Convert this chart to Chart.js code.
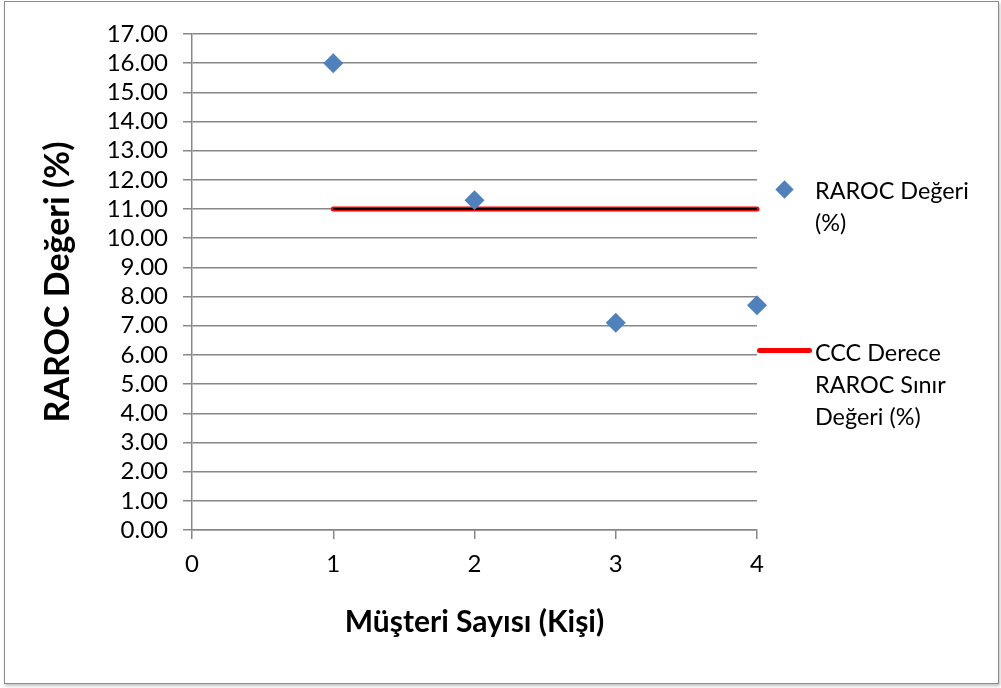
<!DOCTYPE html>
<html>
<head>
<meta charset="utf-8">
<script src="https://cdn.jsdelivr.net/npm/chart.js@4/dist/chart.umd.min.js"></script>
<style>
  html, body { margin: 0; padding: 0; background: #fff; }
  #wrap { position: relative; width: 1001px; height: 688px; overflow: hidden; }
  #frame { position: absolute; left: 4px; top: 1px; width: 993px; height: 681px;
           border: 1.5px solid #8c8c8c; box-shadow: 1px 2px 3px rgba(0,0,0,0.25); }
  canvas { position: absolute; left: 0; top: 0; }
  .leg { position: absolute; left: 815px; font-family: Lato, sans-serif; font-size: 23.4px;
         line-height: 32px; color: #000; white-space: nowrap; }
  .diamond { position: absolute; left: 778px; top: 183px; width: 13px; height: 13px;
             background: #4F81BD; transform: rotate(45deg); }
  .redline { position: absolute; left: 757px; top: 348px; width: 55px; height: 5px;
             background: #FF0000; border-radius: 3px; }
</style>
</head>
<body>
<div id="wrap">
  <div id="frame"></div>
  <canvas id="c" width="1001" height="688"></canvas>
  <div class="diamond"></div>
  <div class="leg" id="leg1" style="top:174px"></div>
  <div class="redline"></div>
  <div class="leg" id="leg2" style="top:336px"></div>
</div>
<script>
// Customer counts and their RAROC values (%)
const customerCounts = [1, 2, 3, 4];
const rarocValues = [16.0, 11.3, 7.1, 7.7];
// CCC grade RAROC threshold (%) across the customers
const thresholdValues = [11.0, 11.0, 11.0, 11.0];

const rarocLabel = ['RAROC Değeri', '(%)'];
const thresholdLabel = ['CCC Derece', 'RAROC Sınır', 'Değeri (%)'];
const xTitle = 'Müşteri Sayısı (Kişi)';
const yTitle = 'RAROC Değeri (%)';

const xMin = 0, xMax = 4, yMin = 0, yMax = 17, yStep = 1;

document.getElementById('leg1').innerHTML = rarocLabel.join('<br>');
document.getElementById('leg2').innerHTML = thresholdLabel.join('<br>');

const toPoints = (xs, ys) => xs.map((x, i) => ({ x: x, y: ys[i] }));

const grey = '#878787';
const tickFont = { family: 'Lato', size: 24 };

new Chart(document.getElementById('c'), {
  type: 'scatter',
  data: {
    datasets: [
      {
        label: rarocLabel.join(' '),
        data: toPoints(customerCounts, rarocValues),
        pointStyle: 'rectRot',
        pointRadius: 10,
        pointHoverRadius: 10,
        backgroundColor: '#4F81BD',
        borderColor: '#4F81BD',
        borderWidth: 0,
        clip: false,
        order: 0
      },
      {
        label: thresholdLabel.join(' '),
        data: toPoints(customerCounts, thresholdValues),
        showLine: true,
        borderColor: '#FF0000',
        borderWidth: 5,
        borderCapStyle: 'round',
        pointRadius: 0,
        clip: false,
        order: 2
      },
      {
        label: 'core',
        data: toPoints(customerCounts, thresholdValues),
        showLine: true,
        borderColor: '#000000',
        borderWidth: 2,
        pointRadius: 0,
        clip: false,
        order: 1
      }
    ]
  },
  options: {
    responsive: false,
    animation: false,
    events: [],
    layout: { padding: { left: 0, top: 34, right: 244, bottom: 0 } },
    plugins: { legend: { display: false }, tooltip: { enabled: false } },
    scales: {
      x: {
        type: 'linear',
        min: xMin, max: xMax,
        afterFit: s => { s.height = 158; },
        ticks: { stepSize: 1, autoSkip: false, color: '#000', font: tickFont, padding: 11,
                 callback: v => String(v) },
        grid: { drawOnChartArea: false, drawTicks: true, tickLength: 9, color: grey, lineWidth: 1.5 },
        border: { display: true, color: grey, width: 1.5 },
        title: { display: true, text: xTitle, color: '#000',
                 font: { family: 'Lato', size: 30, weight: 'bold' },
                 padding: { top: 0, bottom: 48 } }
      },
      y: {
        type: 'linear',
        min: yMin, max: yMax,
        afterFit: s => { s.width = 192; },
        ticks: { stepSize: yStep, autoSkip: false, color: '#000', font: tickFont, padding: 15,
                 callback: v => v.toFixed(2) },
        grid: { color: grey, lineWidth: 1.5, tickLength: 9 },
        border: { display: true, color: grey, width: 1.5 },
        title: { display: true, text: yTitle, color: '#000',
                 font: { family: 'Lato', size: 34, weight: 'bold' },
                 padding: { top: 38, bottom: 0 } }
      }
    }
  }
});
</script>
</body>
</html>
